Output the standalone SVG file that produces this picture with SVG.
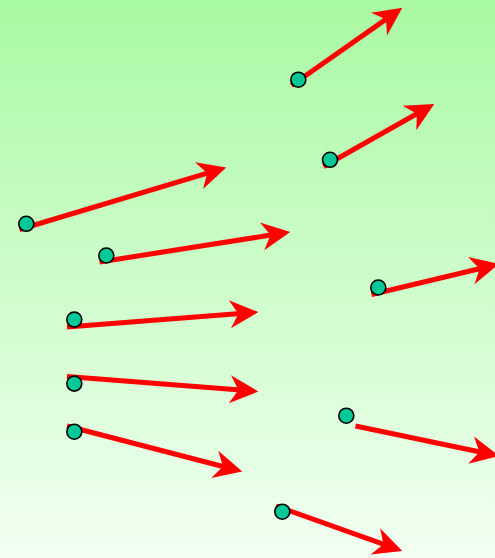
<svg xmlns="http://www.w3.org/2000/svg" width="495" height="558" viewBox="0 0 495 558">
  <defs>
    <linearGradient id="bg" x1="0" y1="0" x2="0" y2="1">
      <stop offset="0" stop-color="#a9f9a3"/>
      <stop offset="1" stop-color="#f2fff2"/>
    </linearGradient>
    <marker id="arrow" markerUnits="userSpaceOnUse" orient="auto" viewBox="-12 -15 32 30" refX="0" refY="0" markerWidth="32" markerHeight="30" overflow="visible">
      <path d="M18,0 L-10.5,-14 L-2,0 L-10.5,14 Z" fill="#ff0000"/>
    </marker>
    <style>
      .conn { stroke: #ff0000; stroke-width: 5; fill: none; marker-end: url(#arrow); }
      .node { fill: #00c896; stroke: #000000; stroke-width: 1.6; }
    </style>
  </defs>
  <rect x="0" y="0" width="495" height="558" fill="url(#bg)"/>
  <g id="connectors">
    <line class="conn" x1="291.5" y1="85.5" x2="387.6" y2="18.1"/>
    <line class="conn" x1="323.5" y1="166.5" x2="418.6" y2="112.8"/>
    <line class="conn" x1="19.5" y1="229.5" x2="209.1" y2="172.7"/>
    <line class="conn" x1="99.5" y1="262" x2="272.5" y2="234.8"/>
    <line class="conn" x1="371.5" y1="294.5" x2="481.5" y2="268.2"/>
    <line class="conn" x1="67" y1="327" x2="240.4" y2="313.5"/>
    <line class="conn" x1="67" y1="376.5" x2="240.4" y2="390.1"/>
    <line class="conn" x1="67" y1="426" x2="224.9" y2="467"/>
    <line class="conn" x1="355.5" y1="426" x2="481.4" y2="452.3"/>
    <line class="conn" x1="276" y1="506" x2="385.3" y2="544.9"/>
  </g>
  <g id="n1"><circle class="node" cx="298.3" cy="79.7" r="7.5"/></g>
  <g id="n2"><circle class="node" cx="330" cy="159.8" r="7.5"/></g>
  <g id="n3"><circle class="node" cx="26.3" cy="223.8" r="7.5"/></g>
  <g id="n4"><circle class="node" cx="106.3" cy="255.5" r="7.5"/></g>
  <g id="n5"><circle class="node" cx="378.3" cy="287.5" r="7.5"/></g>
  <g id="n6"><circle class="node" cx="74.3" cy="319.6" r="7.5"/></g>
  <g id="n7"><circle class="node" cx="74.3" cy="383.6" r="7.5"/></g>
  <g id="n8"><circle class="node" cx="74.3" cy="431.7" r="7.5"/></g>
  <g id="n9"><circle class="node" cx="346.3" cy="415.7" r="7.5"/></g>
  <g id="n10"><circle class="node" cx="282.3" cy="511.7" r="7.5"/></g>
</svg>
